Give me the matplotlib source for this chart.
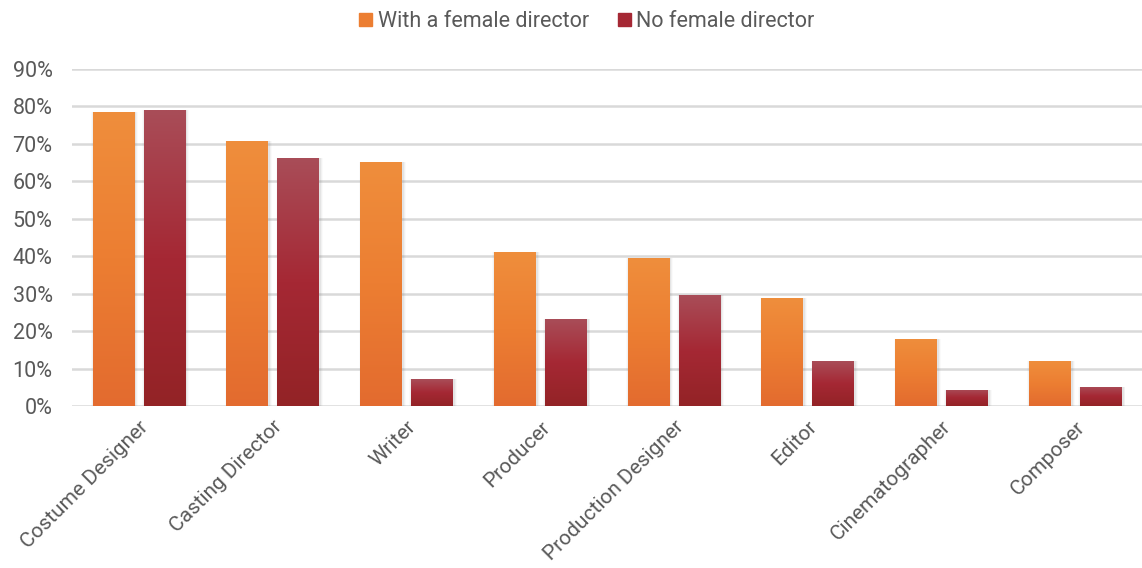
import numpy as np
import matplotlib.pyplot as plt
from matplotlib.patches import Rectangle
from matplotlib.colors import LinearSegmentedColormap

plt.rcParams['font.family'] = ['Roboto', 'DejaVu Sans']

roles = ['Costume Designer', 'Casting Director', 'Writer', 'Producer',
         'Production Designer', 'Editor', 'Cinematographer', 'Composer']
with_female = [78.5, 70.8, 65.2, 41.1, 39.5, 28.8, 17.9, 12.0]
no_female = [79.0, 66.2, 7.2, 23.2, 29.6, 12.0, 4.3, 5.1]
series_names = ['With a female director', 'No female director']

# top -> bottom colours for each series
grad_orange = ['#EF8E3C', '#EC7E32', '#E36B2F']
grad_red = ['#A94D58', '#A52834', '#932326']

fig = plt.figure(figsize=(11.42, 5.68), dpi=100)
ax = fig.add_axes([0.063, 0.285, 0.937, 0.5935])

x = np.arange(len(roles))
w = 0.31
off = 0.19

def gradient_bars(xs, vals, cols, label):
    cmap = LinearSegmentedColormap.from_list(label, cols[::-1])
    bars = ax.bar(xs, vals, w, color=cols[1], label=label, zorder=3)
    grad = np.linspace(0, 1, 256).reshape(-1, 1)
    for b in bars:
        bx, by = b.get_x(), b.get_y()
        bw, bh = b.get_width(), b.get_height()
        # soft shadow behind the bar
        for k, a in enumerate([0.10, 0.06, 0.03]):
            s = 0.012 * (k + 1)
            ax.add_patch(Rectangle((bx - s * 0.6 + 0.01, by - s * 2), bw + s * 1.2, bh + s * 2,
                                   color='#707070', alpha=a, lw=0, zorder=2))
        im = ax.imshow(grad, extent=[bx, bx + bw, by, by + bh], origin='lower',
                       cmap=cmap, aspect='auto', zorder=4)
        im.set_clip_path(b)
    return bars

gradient_bars(x - off, with_female, grad_orange, series_names[0])
gradient_bars(x + off, no_female, grad_red, series_names[1])

ax.set_xlim(-0.5, len(roles) - 0.5)
ax.set_ylim(0, 90)
ax.set_yticks(np.arange(0, 91, 10))
ax.set_yticklabels([f'{v}%' for v in range(0, 91, 10)])
ax.yaxis.grid(True, color='#D9D9D9', lw=1.8, zorder=0)
ax.set_axisbelow(True)
for s in ax.spines.values():
    s.set_visible(False)
ax.tick_params(axis='both', length=0, colors='#595959', labelsize=15.5)
ax.tick_params(axis='y', pad=14)
ax.set_xticks(x)
ax.set_xticklabels(roles, rotation=45, ha='right', rotation_mode='anchor')
ax.tick_params(axis='x', pad=8, labelsize=15)

handles = [Rectangle((0, 0), 1, 1, color=grad_orange[1]),
           Rectangle((0, 0), 1, 1, color=grad_red[1])]
fig.legend(handles, series_names, loc='center', bbox_to_anchor=(0.514, 0.962), ncol=2,
           frameon=False, fontsize=15.5, handlelength=0.6, handleheight=0.6,
           handletextpad=0.25, columnspacing=1.35, labelcolor='#595959')

fig.savefig('out.png', dpi=100)
